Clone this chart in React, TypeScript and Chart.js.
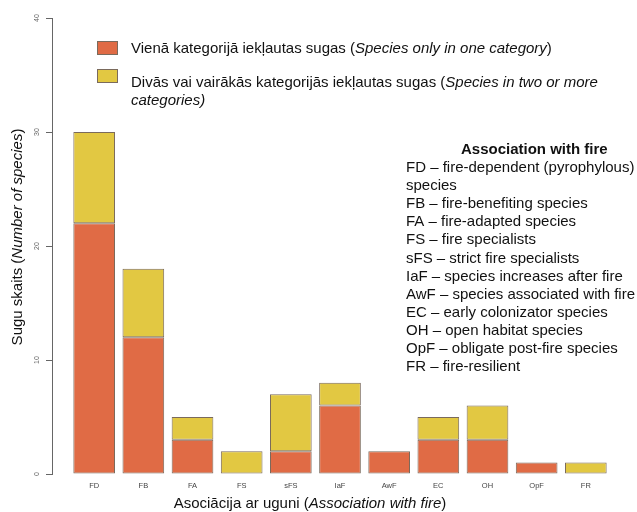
import React, { useEffect, useRef } from "react";
import { Chart, registerables } from "chart.js";

Chart.register(...registerables);

const categories = ["FD", "FB", "FA", "FS", "sFS", "IaF", "AwF", "EC", "OH", "OpF", "FR"];
const singleCategory = [22, 12, 3, 0, 2, 6, 2, 3, 3, 1, 0];
const multiCategory = [8, 6, 2, 2, 5, 2, 0, 2, 3, 0, 1];
const yTicks = [0, 10, 20, 30, 40];

const seriesNames = [
  "Vienā kategorijā iekļautas sugas (Species only in one category)",
  "Divās vai vairākās kategorijās iekļautas sugas (Species in two or more categories)",
];

type Run = { t: string; i?: boolean; b?: boolean };

const legendLines: Run[][][] = [
  [[{ t: "Vienā kategorijā iekļautas sugas (" }, { t: "Species only in one category", i: true }, { t: ")" }]],
  [
    [{ t: "Divās vai vairākās kategorijās iekļautas sugas (" }, { t: "Species in two or more", i: true }],
    [{ t: "categories)", i: true }],
  ],
];

const infoTitle = "Association with fire";
const infoLines = [
  "FD – fire-dependent (pyrophylous)",
  "species",
  "FB – fire-benefiting species",
  "FA – fire-adapted species",
  "FS – fire specialists",
  "sFS – strict fire specialists",
  "IaF – species increases after fire",
  "AwF – species associated with fire",
  "EC – early colonizator species",
  "OH – open habitat species",
  "OpF – obligate post-fire species",
  "FR – fire-resilient",
];

const xTitle: Run[] = [{ t: "Asociācija ar uguni (" }, { t: "Association with fire", i: true }, { t: ")" }];
const yTitle: Run[] = [{ t: "Sugu skaits (" }, { t: "Number of species", i: true }, { t: ")" }];

const FONT = '"Liberation Sans", Arial, Helvetica, sans-serif';
const ORANGE = "#E06B45";
const YELLOW = "#E2C842";
const BORDER = "#7a6a5c";

function fontFor(r: Run, size: number) {
  return `${r.i ? "italic " : ""}${r.b ? "bold " : ""}${size}px ${FONT}`;
}

function runsWidth(ctx: CanvasRenderingContext2D, runs: Run[], size: number) {
  let w = 0;
  for (const r of runs) {
    ctx.font = fontFor(r, size);
    w += ctx.measureText(r.t).width;
  }
  return w;
}

function drawRuns(ctx: CanvasRenderingContext2D, runs: Run[], x: number, y: number, size: number) {
  let cx = x;
  for (const r of runs) {
    ctx.font = fontFor(r, size);
    ctx.fillText(r.t, cx, y);
    cx += ctx.measureText(r.t).width;
  }
}

const textPlugin = {
  id: "textPlugin",
  afterDraw(chart: any) {
    const ctx: CanvasRenderingContext2D = chart.ctx;
    ctx.save();
    ctx.fillStyle = "#111";
    ctx.textAlign = "left";
    ctx.textBaseline = "alphabetic";

    // legend
    const boxYs = [41, 69];
    const baseYs = [[52.5], [87, 105]];
    chart.data.datasets.forEach((ds: any, i: number) => {
      ctx.fillStyle = ds.backgroundColor;
      ctx.fillRect(97, boxYs[i], 21, 14);
      ctx.strokeStyle = BORDER;
      ctx.lineWidth = 1;
      ctx.strokeRect(97.5, boxYs[i] + 0.5, 20, 13);
      ctx.fillStyle = "#111";
      legendLines[i].forEach((line, j) => drawRuns(ctx, line, 131, baseYs[i][j], 15));
    });

    // info box
    ctx.font = `bold 15px ${FONT}`;
    ctx.fillText(infoTitle, 461, 154);
    infoLines.forEach((l, i) => {
      ctx.font = `15px ${FONT}`;
      ctx.fillText(l, 406, 172 + i * 18.1);
    });

    // x title
    const xs = chart.scales.x;
    const xw = runsWidth(ctx, xTitle, 15);
    drawRuns(ctx, xTitle, 310 - xw / 2, 508, 15);

    // y title
    const ys = chart.scales.y;
    const yw = runsWidth(ctx, yTitle, 15);
    ctx.translate(18, 237);
    ctx.rotate(-Math.PI / 2);
    ctx.textBaseline = "middle";
    drawRuns(ctx, yTitle, -yw / 2, 0, 15);
    ctx.restore();
  },
};

export default function App() {
  const ref = useRef<HTMLCanvasElement | null>(null);

  useEffect(() => {
    if (!ref.current) return;
    const chart = new Chart(ref.current, {
      type: "bar",
      data: {
        labels: categories,
        datasets: [
          {
            label: seriesNames[0],
            data: singleCategory,
            backgroundColor: ORANGE,
            borderColor: BORDER,
            borderWidth: 1,
            borderSkipped: false,
            barPercentage: 0.848,
            categoryPercentage: 1,
          },
          {
            label: seriesNames[1],
            data: multiCategory,
            backgroundColor: YELLOW,
            borderColor: BORDER,
            borderWidth: 1,
            borderSkipped: false,
            barPercentage: 0.848,
            categoryPercentage: 1,
          },
        ],
      },
      options: {
        responsive: false,
        animation: false,
        layout: { padding: { top: 18, right: 26.6, bottom: 0, left: 0 } },
        plugins: { legend: { display: false }, tooltip: { enabled: false } },
        scales: {
          x: {
            stacked: true,
            grid: { display: false, drawTicks: false },
            border: { display: false },
            ticks: {
              color: "#444",
              font: { family: FONT, size: 7.5 },
              padding: 7,
              maxRotation: 0,
              autoSkip: false,
            },
            afterFit: (s: any) => {
              s.height = 38;
            },
          },
          y: {
            stacked: true,
            position: "left",
            weight: 1,
            min: 0,
            max: 40,
            afterBuildTicks: (s: any) => {
              s.ticks = yTicks.map((v) => ({ value: v }));
            },
            grid: { display: true, drawOnChartArea: false, drawTicks: true, tickLength: 6, color: "#666", lineWidth: 1 },
            border: { display: true, color: "#666", width: 1 },
            ticks: {
              color: "#666",
              font: { family: FONT, size: 7 },
              minRotation: 90,
              maxRotation: 90,
              crossAlign: "center",
              padding: 5,
            },
            afterFit: (s: any) => {
              s.width = 52;
            },
          },
          gap: {
            type: "linear",
            position: "left",
            weight: 0,
            display: true,
            grid: { display: false, drawTicks: false },
            border: { display: false },
            ticks: { display: false },
            afterFit: (s: any) => {
              s.width = 17.6;
            },
          },
        },
      } as any,
      plugins: [textPlugin],
    });
    return () => chart.destroy();
  }, []);

  return (
    <div style={{ position: "absolute", left: 0, top: 0, width: 637, height: 512, background: "#fff" }}>
      <canvas ref={ref} width={637} height={512} />
    </div>
  );
}
